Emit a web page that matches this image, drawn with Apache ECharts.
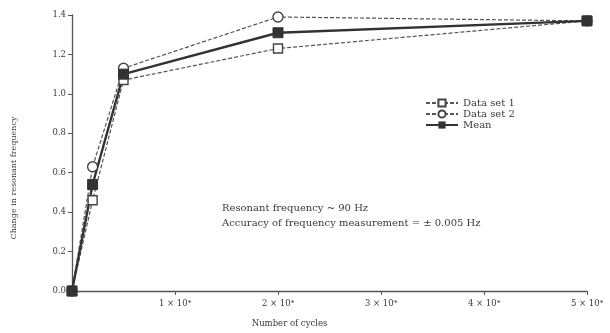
<!DOCTYPE html>
<html>
<head>
<meta charset="utf-8">
<script src="https://cdn.jsdelivr.net/npm/echarts@6/dist/echarts.min.js"></script>
<style>
  html, body { margin: 0; padding: 0; background: #fff; }
  #chart { width: 610px; height: 333px; }
</style>
</head>
<body>
<div id="chart"></div>
<script>
// number of cycles at each measurement
const cycles = [0, 2000, 5000, 20000, 50000];
const dataSet1 = [0, 0.46, 1.07, 1.23, 1.37];
const dataSet2 = [0, 0.63, 1.13, 1.39, 1.37];
const meanVals = [0, 0.54, 1.10, 1.31, 1.37];
const yTicks = [0, 0.2, 0.4, 0.6, 0.8, 1.0, 1.2, 1.4];

const font = '"DejaVu Serif", "Liberation Serif", serif';
const ink = '#3a3a3a';

function pairs(ys) {
  return cycles.map((x, i) => [x, ys[i]]);
}

let chart = echarts.init(document.getElementById('chart'));
let option = {
  animation: false,
  backgroundColor: '#fff',
  textStyle: { fontFamily: font, color: ink },
  grid: { left: 72, right: 23, top: 15, bottom: 39 },
  legend: {
    orient: 'vertical',
    left: 420,
    top: 93,
    itemWidth: 32,
    itemHeight: 9,
    itemGap: 1,
    textStyle: { fontFamily: font, fontSize: 10, color: ink },
    data: ['Data set 1', 'Data set 2', 'Mean']
  },
  xAxis: {
    type: 'value',
    min: 0,
    max: 50000,
    interval: 10000,
    splitLine: { show: false },
    axisLine: { lineStyle: { color: '#555', width: 1.3 } },
    axisTick: { length: 4, lineStyle: { color: '#555' } },
    axisLabel: {
      fontFamily: font, fontSize: 8.5, color: ink, margin: 8,
      formatter: v => v === 0 ? '' : (v / 10000) + ' \u00d7 10\u2074'
    },
    name: 'Number of cycles',
    nameLocation: 'middle',
    nameGap: 28,
    nameTextStyle: { fontFamily: font, fontSize: 8.5, color: ink, padding: [0, 0, 0, -80] }
  },
  yAxis: {
    type: 'value',
    min: 0,
    max: 1.4,
    interval: 0.2,
    splitLine: { show: false },
    axisLine: { show: true, lineStyle: { color: '#555', width: 1.3 } },
    axisTick: { show: true, length: 4, lineStyle: { color: '#555' } },
    axisLabel: {
      fontFamily: font, fontSize: 8.5, color: ink, margin: 6,
      formatter: v => yTicks.some(t => Math.abs(t - v) < 1e-6) ? v.toFixed(1) : ''
    }
  },
  graphic: [
    {
      type: 'text',
      x: 14, y: 178,
      rotation: Math.PI / 2,
      style: {
        text: 'Change in resonant frequency',
        font: '8px ' + font,
        fill: ink,
        align: 'center',
        verticalAlign: 'middle'
      }
    },
    {
      type: 'text',
      left: 222, top: 201,
      style: {
        text: 'Resonant frequency ~ 90 Hz\nAccuracy of frequency measurement = \u00b1 0.005 Hz',
        font: '10px ' + font,
        fill: ink,
        lineHeight: 15
      }
    }
  ],
  series: [
    {
      name: 'Data set 1',
      type: 'line',
      data: pairs(dataSet1),
      symbol: 'rect',
      symbolSize: 9,
      itemStyle: { color: '#fff', borderColor: '#444', borderWidth: 1.4 },
      lineStyle: { color: '#555', width: 1.2, type: [4, 2] }
    },
    {
      name: 'Data set 2',
      type: 'line',
      data: pairs(dataSet2),
      symbol: 'circle',
      symbolSize: 10,
      itemStyle: { color: '#fff', borderColor: '#444', borderWidth: 1.4 },
      lineStyle: { color: '#555', width: 1.2, type: [4, 2] }
    },
    {
      name: 'Mean',
      type: 'line',
      data: pairs(meanVals),
      symbol: 'rect',
      symbolSize: 10,
      itemStyle: { color: '#333', borderColor: '#333' },
      lineStyle: { color: '#333', width: 2.4 }
    }
  ]
};
chart.setOption(option);
</script>
</body>
</html>
